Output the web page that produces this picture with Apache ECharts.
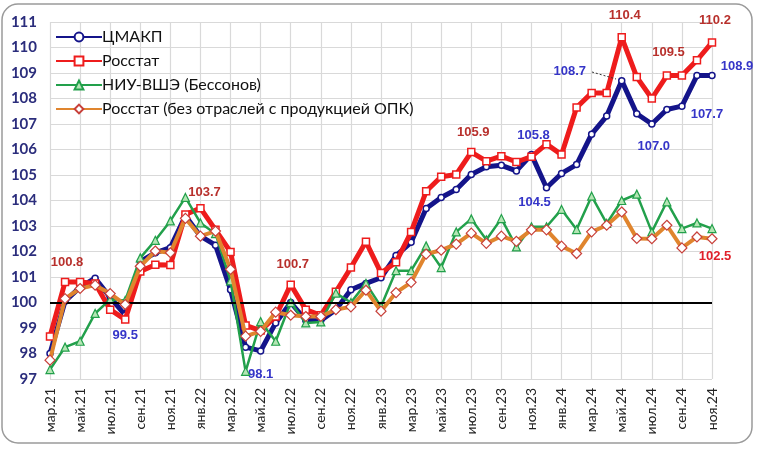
<!DOCTYPE html>
<html>
<head>
<meta charset="utf-8">
<script src="https://cdn.jsdelivr.net/npm/echarts@6/dist/echarts.min.js"></script>
<style>
html,body{margin:0;padding:0;background:#fff;}
#chart{width:758px;height:449px;}
</style>
</head>
<body>
<div id="chart"></div>
<script>
const categories = [
  'мар.21','апр.21','май.21','июн.21','июл.21','авг.21','сен.21','окт.21','ноя.21','дек.21',
  'янв.22','фев.22','мар.22','апр.22','май.22','июн.22','июл.22','авг.22','сен.22','окт.22','ноя.22','дек.22',
  'янв.23','фев.23','мар.23','апр.23','май.23','июн.23','июл.23','авг.23','сен.23','окт.23','ноя.23','дек.23',
  'янв.24','фев.24','мар.24','апр.24','май.24','июн.24','июл.24','авг.24','сен.24','окт.24','ноя.24'
];
const seriesNames = ['ЦМАКП','Росстат','НИУ-ВШЭ (Бессонов)','Росстат (без отраслей с продукцией ОПК)'];
const cmakp = [98.0,100.05,100.6,100.95,100.2,99.5,101.6,101.95,102.15,103.4,
  102.6,102.25,100.5,98.25,98.1,99.2,100.0,99.3,99.3,99.72,100.5,100.75,
  100.97,101.84,102.36,103.69,104.12,104.43,105.02,105.32,105.38,105.16,105.8,104.5,
  105.06,105.41,106.6,107.31,108.7,107.4,107.0,107.57,107.7,108.9,108.9];
const rosstat = [98.67,100.8,100.8,100.75,99.72,99.33,101.22,101.48,101.47,103.45,
  103.7,102.85,101.98,99.1,98.9,99.45,100.7,99.72,99.5,100.42,101.37,102.38,
  101.16,101.58,102.76,104.36,104.93,105.02,105.9,105.54,105.74,105.51,105.72,106.21,
  105.8,107.65,108.22,108.22,110.4,108.84,108.0,108.9,108.9,109.5,110.2];
const hse = [97.37,98.25,98.48,99.57,100.12,100.08,101.75,102.44,103.2,104.12,
  103.12,102.7,100.85,97.3,99.25,98.48,100.0,99.2,99.24,100.37,100.0,100.75,
  99.84,101.25,101.25,102.22,101.37,102.77,103.28,102.46,103.29,102.18,102.97,102.97,
  103.65,102.86,104.17,103.1,104.0,104.25,102.77,103.95,102.9,103.12,102.9];
const rosstatNoOpk = [97.74,100.15,100.55,100.68,100.35,99.92,101.42,102.02,101.95,103.3,
  102.6,102.8,101.3,98.68,98.87,99.62,99.5,99.45,99.45,99.72,99.83,100.48,
  99.66,100.39,100.79,101.9,102.05,102.29,102.72,102.32,102.6,102.4,102.85,102.85,
  102.21,101.92,102.77,103.03,103.55,102.51,102.5,103.03,102.14,102.57,102.5];
const yTicks = {min: 97, max: 111, step: 1};

// which points carry a value label
const labelsCmakp = {5:'b1',14:'b2',32:'t1',33:'bl',38:'lead',40:'b3',42:'rb',44:'rt'};
const labelsRosstat = {1:'t1',10:'t0',16:'t1',28:'t1',38:'t2',43:'lt',44:'t2'};
const labelsNoOpk = {44:'b0'};

const labelStyles = {
  t0:{position:'top',distance:5,offset:[4,0]},
  t1:{position:'top',distance:9,offset:[2,0]},
  t2:{position:'top',distance:11,offset:[3,0]},
  b0:{position:'bottom',distance:6,offset:[3,0]},
  b1:{position:'bottom',distance:10},
  b2:{position:'bottom',distance:13},
  b3:{position:'bottom',distance:12,offset:[2,0]},
  bl:{position:'bottom',distance:4,offset:[-12,0]},
  lt:{position:'left',distance:8,offset:[0,-8]},
  rb:{position:'right',distance:5,offset:[0,8]},
  rt:{position:'right',distance:5,offset:[0,-9]},
  lead:{position:'left',distance:32,offset:[0,-9]}
};
const labelFont = {fontFamily:'"Liberation Sans Narrow","Liberation Sans",Arial,sans-serif',fontWeight:'bold',fontSize:13};

function build(values, labels, color){
  return values.map((v,i)=>{
    if(labels[i]===undefined) return v;
    const st = labelStyles[labels[i]];
    return {value:v,label:Object.assign({show:true,color:color,formatter:(p)=>p.value.toFixed(1)},labelFont,st)};
  });
}

const chart = echarts.init(document.getElementById('chart'), null, {renderer:'canvas'});
const option = {
  animation:false,
  backgroundColor:'#fff',
  graphic:[{
    type:'rect', shape:{x:2,y:4,width:750,height:439,r:16},
    style:{fill:'none',stroke:'#9a9a9a',lineWidth:1.5}, z:-1
  },{
    type:'line', shape:{x1:592,y1:72,x2:616,y2:79},
    style:{stroke:'#333',lineWidth:1,lineDash:[2,2]}, z:10
  }],
  grid:{left:50,right:46,top:22,bottom:70},
  legend:{
    orient:'vertical', left:50, top:23, itemGap:6, itemWidth:46, itemHeight:11,
    data:seriesNames,
    textStyle:{fontFamily:'Lato, "Noto Sans", sans-serif',fontSize:16,color:'#111',lineHeight:18,padding:[0,0,0,-5]}
  },
  xAxis:{
    type:'category', data:categories, boundaryGap:false,
    axisLine:{show:false}, axisTick:{show:false},
    axisLabel:{interval:1,rotate:90,fontFamily:'Lato, "Noto Sans", sans-serif',fontSize:14,color:'#222',margin:9},
    splitLine:{show:true,interval:1,lineStyle:{color:'#d9d9d9',width:1.2}}
  },
  yAxis:{
    type:'value', min:yTicks.min, max:yTicks.max, interval:yTicks.step,
    axisLine:{show:false}, axisTick:{show:false},
    axisLabel:{fontFamily:'Lato, "Noto Sans", sans-serif',fontSize:15,fontWeight:'bold',color:'#2b2d7c',margin:13},
    splitLine:{lineStyle:{color:'#d9d9d9',width:1.2}}
  },
  series:[
    {
      name:seriesNames[0], type:'line', data:build(cmakp,labelsCmakp,'#3535c8'),
      symbol:'circle', symbolSize:6, showAllSymbol:true,
      lineStyle:{color:'#14148a',width:5},
      itemStyle:{color:'#fff',borderColor:'#14148a',borderWidth:1.5},
      markLine:{silent:true,symbol:['none','none'],label:{show:false},
        lineStyle:{color:'#000',width:2,type:'solid'},data:[{yAxis:100}]},
      z:2
    },
    {
      name:seriesNames[1], type:'line', data:build(rosstat,labelsRosstat,'#b8302c'),
      symbol:'rect', symbolSize:7, showAllSymbol:true,
      lineStyle:{color:'#ee1c1c',width:5},
      itemStyle:{color:'#fff',borderColor:'#ee1c1c',borderWidth:1.5},
      z:3
    },
    {
      name:seriesNames[2], type:'line', data:hse,
      symbol:'triangle', symbolSize:8, showAllSymbol:true,
      lineStyle:{color:'#22a04b',width:2.5},
      itemStyle:{color:'#b4e6b4',borderColor:'#22a04b',borderWidth:1.2},
      z:4
    },
    {
      name:seriesNames[3], type:'line', data:build(rosstatNoOpk,labelsNoOpk,'#e0202a'),
      symbol:'diamond', symbolSize:10, showAllSymbol:true,
      lineStyle:{color:'#e0852e',width:4},
      itemStyle:{color:'#fff',borderColor:'#c8403a',borderWidth:1.2},
      z:5
    }
  ]
};
chart.setOption(option);
</script>
</body>
</html>
